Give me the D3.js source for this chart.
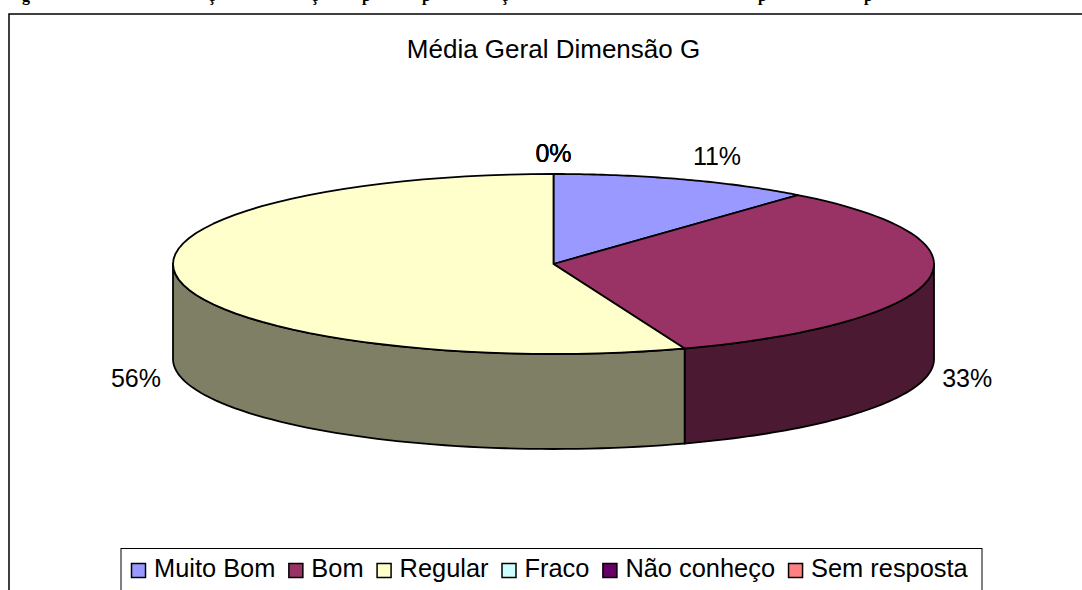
<!DOCTYPE html>
<html>
<head>
<meta charset="utf-8">
<script src="https://cdn.jsdelivr.net/npm/d3@7"></script>
<style>
    html, body { margin: 0; padding: 0; background: #fff; overflow: hidden; }
    svg { display: block; }
    text { font-family: "Liberation Sans", Arial, sans-serif; fill: #000; }
</style>
</head>
<body>
<svg id="chart"></svg>
<script>
const categories = ['Muito Bom', 'Bom', 'Regular', 'Fraco', 'Não conheço', 'Sem resposta'];
const values = [11.1, 33.3, 55.6, 0, 0, 0];
const topColors = ['#9999ff', '#993366', '#ffffcc', '#ccffff', '#660066', '#ff8080'];
const sideColors = ['#4c4c7f', '#4c1933', '#7f7f66', '#667f7f', '#330033', '#7f4040'];
const title = 'Média Geral Dimensão G';

// only the bottoms of these letters survive the crop of the caption above the chart
const captionGlyphs = ['g', 'ç', 'ç', 'p', 'p', 'ç', 'p', 'p'];
const captionGlyphX = [22, 208, 311, 362, 422, 501, 758, 864];

const width = 1082;
const height = 590;

const cx = 553.5;
const cy = 264;
const rx = 380.5;
const ry = 90;
const depth = 95;

const svg = d3.select('svg#chart')
    .attr('width', width)
    .attr('height', height);

const topColor = d3.scaleOrdinal().domain(categories).range(topColors);
const sideColor = d3.scaleOrdinal().domain(categories).range(sideColors);

const pie = d3.pie().sort(null).value(d => d.value);
const slices = pie(categories.map((c, i) => ({ name: c, value: values[i] })));

// pie angle goes clockwise from 12 o'clock, squashed on to the ellipse
const px = a => cx + rx * Math.sin(a);
const py = a => cy - ry * Math.cos(a);
const line = d3.line().x(d => d[0]).y(d => d[1]);

function arcPoints(a0, a1, dy = 0) {
    return d3.range(0, 61).map(i => {
        const a = a0 + (a1 - a0) * i / 60;
        return [px(a), py(a) + dy];
    });
}

const walls = slices
    .filter(d => d.value > 0)
    .map(d => ({
        name: d.data.name,
        a0: Math.max(d.startAngle, Math.PI / 2),
        a1: Math.min(d.endAngle, Math.PI * 1.5)
    }))
    .filter(d => d.a1 > d.a0);

// caption remains
svg.append('g')
    .selectAll('text')
    .data(captionGlyphs)
    .join('text')
    .attr('x', (d, i) => captionGlyphX[i])
    .attr('y', 0.5)
    .style('font-family', '"Liberation Serif", serif')
    .style('font-weight', 'bold')
    .style('font-size', '16px')
    .text(d => d);

// chart frame, runs off the right and the bottom
svg.append('rect')
    .attr('x', 9)
    .attr('y', 14)
    .attr('width', width)
    .attr('height', height)
    .attr('fill', '#fff')
    .attr('stroke', '#000')
    .attr('stroke-width', 1.5);

svg.append('text')
    .attr('x', cx)
    .attr('y', 58)
    .attr('text-anchor', 'middle')
    .style('font-size', '26px')
    .text(title);

svg.append('g')
    .selectAll('path')
    .data(walls)
    .join('path')
    .attr('d', d => line(arcPoints(d.a0, d.a1).concat(arcPoints(d.a1, d.a0, depth))) + 'Z')
    .attr('fill', d => sideColor(d.name))
    .attr('stroke', '#000')
    .attr('stroke-width', 1.8)
    .attr('stroke-linejoin', 'round');

svg.append('g')
    .selectAll('path')
    .data(slices.filter(d => d.value > 0))
    .join('path')
    .attr('d', d => line([[cx, cy]].concat(arcPoints(d.startAngle, d.endAngle))) + 'Z')
    .attr('fill', d => topColor(d.data.name))
    .attr('stroke', '#000')
    .attr('stroke-width', 1.8)
    .attr('stroke-linejoin', 'round');

// labels: zero slices all land on the same spot, that is why 0% looks bold
const labelShift = new Map([['Muito Bom', [20, -4]], ['Regular', [-4, 0]]]);

svg.append('g')
    .selectAll('text')
    .data(slices)
    .join('text')
    .attr('x', d => {
        const mid = (d.startAngle + d.endAngle) / 2;
        const shift = labelShift.get(d.data.name) || [0, 0];
        return cx + 420 * Math.sin(mid) + shift[0];
    })
    .attr('y', d => {
        const mid = (d.startAngle + d.endAngle) / 2;
        const shift = labelShift.get(d.data.name) || [0, 0];
        const drop = Math.cos(mid) < 0 ? depth : 0;
        return cy - 111 * Math.cos(mid) + drop + 9 + shift[1];
    })
    .attr('text-anchor', 'middle')
    .style('font-size', '25px')
    .text(d => Math.round(d.value) + '%');

// legend
const legend = svg.append('g');

legend.append('rect')
    .attr('x', 121)
    .attr('y', 548.5)
    .attr('width', 861)
    .attr('height', 60)
    .attr('fill', '#fff')
    .attr('stroke', '#000')
    .attr('stroke-width', 1);

let legendX = 131;
categories.forEach(c => {
    legend.append('rect')
        .attr('x', legendX + 0.5)
        .attr('y', 563.5)
        .attr('width', 14)
        .attr('height', 14)
        .attr('fill', topColor(c))
        .attr('stroke', '#000')
        .attr('stroke-width', 1.5);
    const label = legend.append('text')
        .attr('x', legendX + 23)
        .attr('y', 577)
        .style('font-size', '25.4px')
        .text(c);
    legendX += 23 + label.node().getComputedTextLength() + 13;
});
</script>
</body>
</html>
